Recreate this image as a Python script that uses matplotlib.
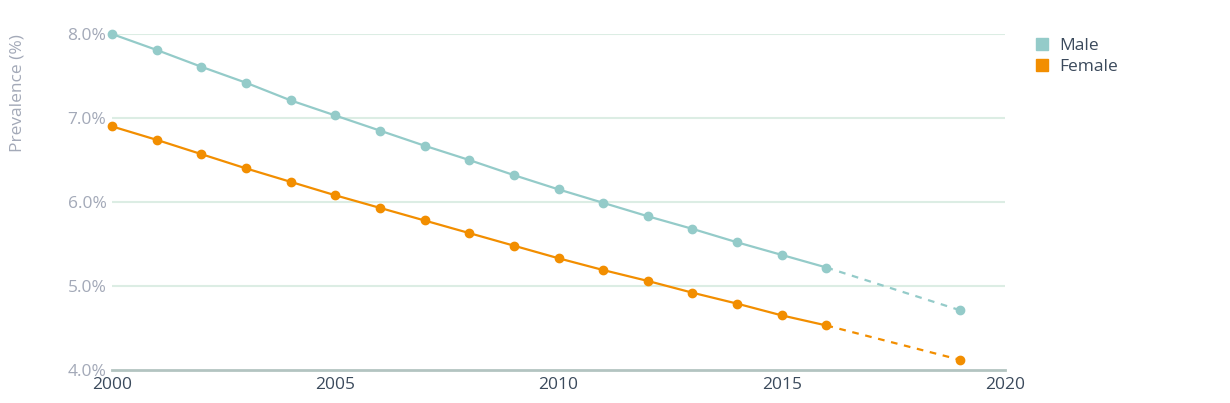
import matplotlib.pyplot as plt
from matplotlib.lines import Line2D

# ── Data ────────────────────────────────────────────────────────────────
years_obs = [2000, 2001, 2002, 2003, 2004, 2005, 2006, 2007, 2008,
             2009, 2010, 2011, 2012, 2013, 2014, 2015, 2016]
male_obs = [8.00, 7.81, 7.61, 7.42, 7.21, 7.03, 6.85, 6.67, 6.50,
            6.32, 6.15, 5.99, 5.83, 5.68, 5.52, 5.37, 5.22]
female_obs = [6.90, 6.74, 6.57, 6.40, 6.24, 6.08, 5.93, 5.78, 5.63,
              5.48, 5.33, 5.19, 5.06, 4.92, 4.79, 4.65, 4.53]

years_proj = [2016, 2019]
male_proj = [5.22, 4.71]
female_proj = [4.53, 4.12]

y_ticks = [4.0, 5.0, 6.0, 7.0, 8.0]
x_ticks = [2000, 2005, 2010, 2015, 2020]

# ── Style ───────────────────────────────────────────────────────────────
MALE = "#94cbc9"
FEMALE = "#f28e00"
GRID = "#dcede4"
AXIS = "#b3c4c1"
YTICK = "#a3a9b8"
XTICK = "#3b4a5c"

plt.rcParams["font.family"] = ["Open Sans", "DejaVu Sans"]

fig = plt.figure(figsize=(12.3, 4.03), dpi=100)
ax = fig.add_axes([0.0911, 0.0819, 0.7260, 0.8337])

for yrs, obs, proj_y, proj, col in [
    (years_obs, male_obs, years_proj, male_proj, MALE),
    (years_obs, female_obs, years_proj, female_proj, FEMALE),
]:
    ax.plot(yrs, obs, color=col, lw=1.6, marker="o", ms=6, zorder=3,
            clip_on=False)
    ax.plot(proj_y, proj, color=col, lw=1.6, ls=(0, (3, 3)), zorder=2)
    ax.plot(proj_y[-1:], proj[-1:], color=col, marker="o", ms=6, lw=0,
            zorder=3, clip_on=False)

ax.set_xlim(2000, 2020)
ax.set_ylim(4.0, 8.0)
ax.set_yticks(y_ticks)
ax.set_yticklabels([f"{v:.1f}%" for v in y_ticks])
ax.set_xticks(x_ticks)
ax.set_xticklabels([str(v) for v in x_ticks])

for v in y_ticks[1:]:
    ax.axhline(v, color=GRID, lw=1.5, zorder=1)

for s in ["top", "right", "left"]:
    ax.spines[s].set_visible(False)
ax.spines["bottom"].set_color(AXIS)
ax.spines["bottom"].set_linewidth(2)

ax.tick_params(axis="y", length=0, pad=4, labelsize=12.5, labelcolor=YTICK)
ax.tick_params(axis="x", length=0, pad=5, labelsize=12.5, labelcolor=XTICK)

fig.text(0.008, 0.915, "Prevalence (%)", rotation=90, ha="left", va="top",
         fontsize=12.5, color=YTICK)

handles = [
    Line2D([], [], marker="s", color=MALE, lw=0, ms=8),
    Line2D([], [], marker="s", color=FEMALE, lw=0, ms=8),
]
leg = fig.legend(handles, ["Male", "Female"], loc="upper left",
                 bbox_to_anchor=(0.829, 0.945), frameon=False,
                 fontsize=12.5, handlelength=0.8, handletextpad=0.6,
                 labelspacing=0.3)
for t in leg.get_texts():
    t.set_color(XTICK)

fig.savefig("out.png", dpi=100)
